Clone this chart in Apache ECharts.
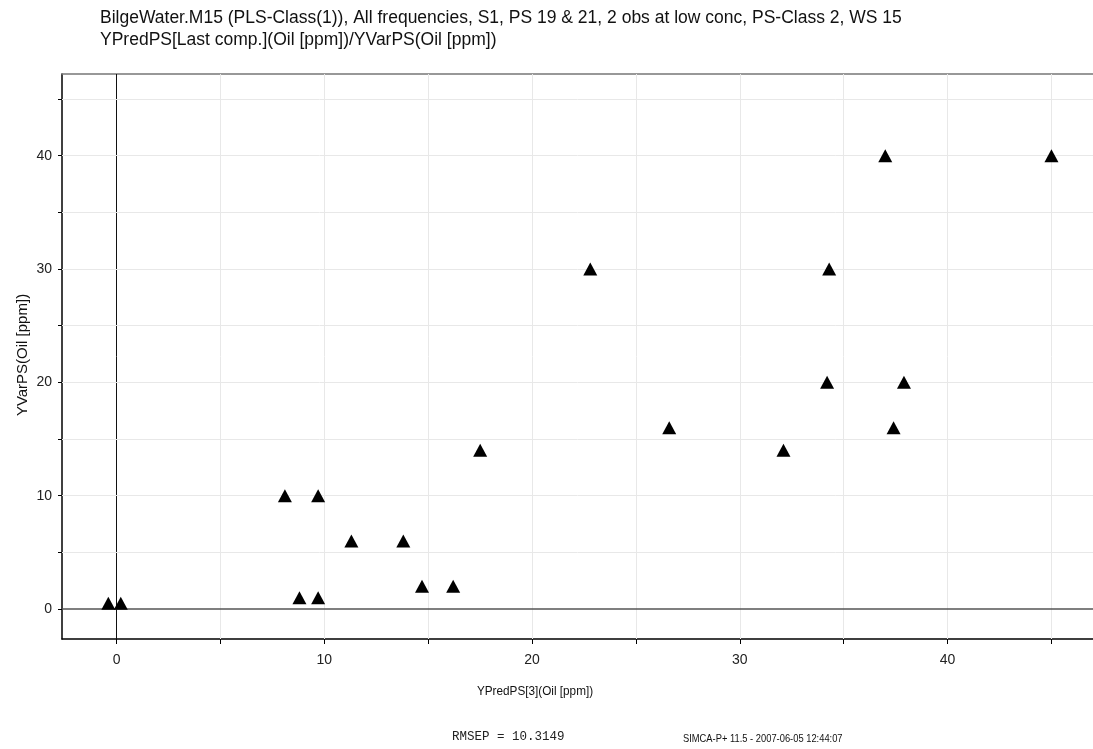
<!DOCTYPE html>
<html lang="en">
<head>
    <meta charset="utf-8">
    <title>YPredPS / YVarPS</title>
    <script src="https://cdn.jsdelivr.net/npm/echarts@6/dist/echarts.min.js"></script>
    <style>
        html, body { margin: 0; padding: 0; background: #fff; }
        #main { width: 1093px; height: 749px; }
    </style>
</head>
<body>
<div id="main"></div>

<script type="text/javascript">
    var predX = [-0.4, 0.2, 8.8, 9.7, 8.1, 9.7, 11.3, 13.8, 14.7, 16.2, 17.5, 22.8, 26.6, 32.1, 34.2, 34.3, 37.0, 37.4, 37.9, 45.0];
    var varY  = [0.5, 0.5, 1, 1, 10, 10, 6, 6, 2, 2, 14, 30, 16, 14, 20, 30, 40, 16, 20, 40];

    var xTicks = [0, 5, 10, 15, 20, 25, 30, 35, 40, 45];
    var xLabels = [0, 10, 20, 30, 40];
    var yTicks = [0, 5, 10, 15, 20, 25, 30, 35, 40, 45];
    var yLabels = [0, 10, 20, 30, 40];

    var points = predX.map(function (x, i) { return [x, varY[i]]; });

    // grid lines as mark lines (light), zero lines darker
    var gridLines = [];
    xTicks.forEach(function (v) {
        gridLines.push({ xAxis: v, lineStyle: v === 0 ? { color: '#111', width: 1, type: 'solid' } : { color: '#e8e8e8', width: 1, type: 'solid' } });
    });
    yTicks.forEach(function (v) {
        gridLines.push({ yAxis: v, lineStyle: v === 0 ? { color: '#555', width: 1.5, type: 'solid' } : { color: '#e8e8e8', width: 1, type: 'solid' } });
    });

    var myChart = echarts.init(document.getElementById('main'));

    var font = 'Liberation Sans, Arial, sans-serif';

    myChart.setOption({
        animation: false,
        grid: { left: 62, top: 74, right: 0, bottom: 110 },
        xAxis: [{
            type: 'value',
            min: -2.63,
            max: 47.0,
            axisLine: { onZero: false, lineStyle: { color: '#000', width: 1.5 } },
            axisTick: { customValues: xTicks, length: 5, lineStyle: { color: '#000' } },
            axisLabel: { customValues: xLabels, margin: 14, fontSize: 14, color: '#222', fontFamily: font },
            splitLine: { show: false }
        }, {
            // top frame line only
            type: 'value',
            position: 'top',
            min: -2.63,
            max: 47.0,
            axisLine: { onZero: false, lineStyle: { color: '#777', width: 1.5 } },
            axisTick: { show: false },
            axisLabel: { show: false },
            splitLine: { show: false }
        }],
        yAxis: {
            type: 'value',
            min: -2.65,
            max: 47.21,
            axisLine: { onZero: false, lineStyle: { color: '#000', width: 1.5 } },
            axisTick: { customValues: yTicks, length: 4, lineStyle: { color: '#000' } },
            axisLabel: { customValues: yLabels, margin: 10, fontSize: 14, color: '#222', fontFamily: font },
            splitLine: { show: false }
        },
        series: [{
            type: 'scatter',
            data: [],
            z: 1,
            markLine: {
                silent: true,
                symbol: 'none',
                label: { show: false },
                animation: false,
                data: gridLines
            }
        }, {
            type: 'scatter',
            z: 5,
            symbol: 'triangle',
            symbolSize: [14, 13],
            itemStyle: { color: '#000', opacity: 1 },
            data: points
        }],
        graphic: [{
            type: 'text', x: 100, y: 18,
            style: { text: 'BilgeWater.M15 (PLS-Class(1)), All frequencies, S1, PS 19 & 21, 2 obs at low conc, PS-Class 2, WS 15', font: '17.5px ' + font, fill: '#111', verticalAlign: 'middle' }
        }, {
            type: 'text', x: 100, y: 40,
            style: { text: 'YPredPS[Last comp.](Oil [ppm])/YVarPS(Oil [ppm])', font: '17.5px ' + font, fill: '#111', verticalAlign: 'middle' }
        }, {
            type: 'text', x: 23, y: 355, rotation: Math.PI / 2,
            style: { text: 'YVarPS(Oil [ppm])', font: '15px ' + font, fill: '#111', align: 'center', verticalAlign: 'middle' }
        }, {
            type: 'text', x: 535, y: 692, scaleX: 0.94,
            style: { text: 'YPredPS[3](Oil [ppm])', font: '12.5px ' + font, fill: '#111', align: 'center', verticalAlign: 'middle' }
        }, {
            type: 'text', x: 452, y: 737,
            style: { text: 'RMSEP = 10.3149', font: '12.5px Liberation Mono, Courier New, monospace', fill: '#222', verticalAlign: 'middle' }
        }, {
            type: 'text', x: 683, y: 739, scaleX: 0.89,
            style: { text: 'SIMCA-P+ 11.5 - 2007-06-05 12:44:07', font: '10.5px ' + font, fill: '#111', verticalAlign: 'middle' }
        }]
    });
</script>
</body>
</html>
